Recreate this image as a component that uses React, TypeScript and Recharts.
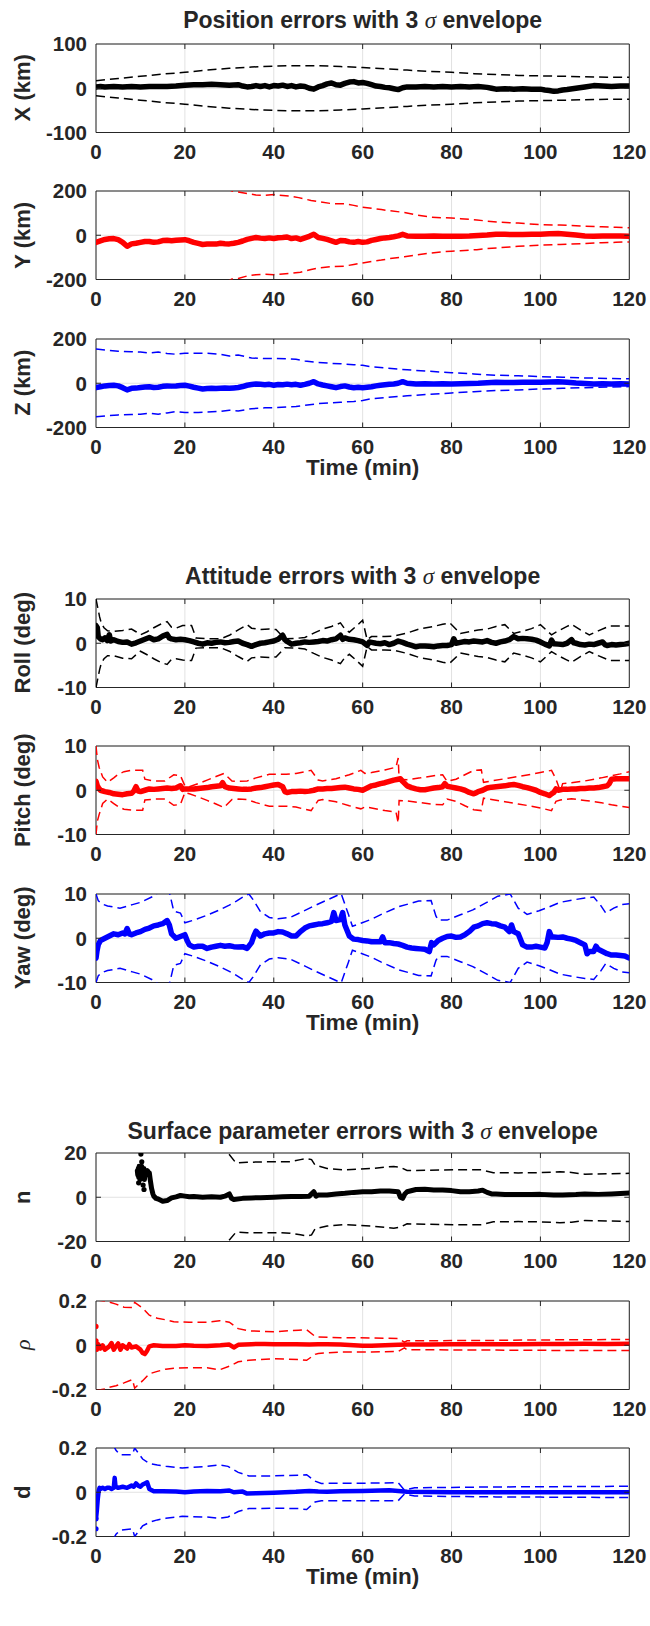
import React from 'react';
import { ComposedChart, Line, Scatter, XAxis, YAxis, CartesianGrid, ReferenceArea, ReferenceLine } from 'recharts';

type P = [number, number];

// ---------- shared axis values ----------
const timeTicks = [0, 20, 40, 60, 80, 100, 120];

// ---------- Position errors ----------
const xErr: P[] = [[0,3],[1,4],[2,3],[4,4],[6,3],[8,4],[10,3],[12,4],[14,4],[16,4],[18,5],[20,7],[22,8],[24,8],[26,9],[28,8],[30,7],[32,8],[33,5],[34,3],[35,4],[36,6],[37,4],[38,6],[39,3],[40,6],[41,5],[42,7],[43,4],[44,6],[45,3],[46,5],[47,4],[48,0],[49,-2],[50,3],[51,6],[52,10],[53,12],[54,8],[55,7],[56,11],[57,14],[58,15],[59,12],[60,13],[61,11],[62,8],[63,5],[64,4],[65,2],[66,1],[67,-1],[68,-3],[69,1],[70,3],[72,3],[74,4],[76,3],[78,4],[80,3],[82,4],[84,3],[86,4],[88,2],[89,0],[90,-2],[92,-1],[94,-2],[96,-1],[98,-2],[100,-2],[101,-4],[102,-5],[103,-7],[104,-6],[105,-4],[106,-3],[108,0],[110,3],[112,6],[114,5],[116,4],[118,5],[120,5]];
const xUp: P[] = [[0,17],[5,22],[10,27],[15,32],[20,36],[25,41],[30,45],[35,48],[40,50],[45,51],[50,51],[55,49],[60,47],[65,44],[70,41],[75,38],[80,36],[85,33],[90,31],[95,29],[100,28],[105,27],[110,26],[115,25],[120,25]];
const xDn: P[] = [[0,-17],[5,-22],[10,-27],[15,-32],[20,-36],[25,-41],[30,-45],[35,-48],[40,-50],[45,-51],[50,-51],[55,-49],[60,-47],[65,-44],[70,-41],[75,-38],[80,-36],[85,-33],[90,-31],[95,-29],[100,-28],[105,-27],[110,-26],[115,-25],[120,-25]];

const yErr: P[] = [[0,-32],[1,-25],[2,-19],[3,-16],[4,-15],[5,-20],[6,-32],[7,-50],[8,-39],[9,-36],[10,-32],[11,-28],[12,-28],[13,-32],[14,-30],[15,-24],[16,-23],[17,-25],[18,-23],[19,-21],[20,-20],[21,-25],[22,-32],[23,-37],[24,-42],[25,-40],[26,-39],[27,-40],[28,-36],[29,-38],[30,-39],[31,-36],[32,-32],[33,-26],[34,-19],[35,-14],[36,-10],[37,-13],[38,-15],[39,-12],[40,-15],[41,-11],[42,-10],[43,-8],[44,-15],[45,-12],[46,-19],[47,-12],[48,-5],[49,4],[50,-10],[51,-14],[52,-19],[53,-25],[54,-32],[55,-24],[56,-25],[57,-30],[58,-32],[59,-28],[60,-32],[61,-30],[62,-23],[63,-19],[64,-15],[65,-12],[66,-10],[67,-7],[68,-3],[69,4],[70,-3],[72,-5],[74,-5],[76,-3],[78,-5],[80,-5],[82,-4],[84,-3],[86,-1],[88,1],[90,4],[92,4],[94,3],[96,3],[98,4],[100,5],[102,7],[104,8],[106,5],[108,1],[110,-3],[112,-4],[114,-3],[116,-3],[118,-3],[120,-4]];
const yUp: P[] = [[29,215],[30.6,200],[32,195],[34.4,187],[36,182],[38,180],[40,184],[42,180],[43.7,177],[45.6,170],[48.4,157],[50,152],[53,143],[55.8,142],[58,135],[60,127],[62,122],[64.2,116],[66,111],[69.4,103],[71.7,93],[75.4,82],[78,79],[80,78],[82,75],[85.7,69],[88,64],[90.4,59],[95,55],[99.7,48],[104.4,46],[109,42],[113.8,38],[117,36],[120,34]];
const yDn: P[] = [[29,-215],[30.6,-198],[32,-195],[34.4,-182],[36,-178],[38,-176],[40,-178],[42,-175],[44,-172],[46,-167],[48.4,-155],[50,-148],[53,-142],[55.8,-140],[58,-132],[60,-125],[62,-118],[64.2,-112],[66,-106],[69.4,-97],[71.7,-90],[75.4,-80],[78,-75],[80,-72],[82,-70],[85.7,-65],[88,-60],[90.4,-57],[95,-50],[99.7,-45],[104.4,-42],[109,-38],[113.8,-34],[117,-32],[120,-30]];

const zErr: P[] = [[0,-20],[1,-16],[2,-12],[3,-10],[4,-9],[5,-12],[6,-20],[7,-30],[8,-23],[9,-22],[10,-19],[11,-17],[12,-16],[13,-19],[14,-18],[15,-14],[16,-12],[17,-13],[18,-12],[19,-10],[20,-9],[21,-13],[22,-18],[23,-22],[24,-26],[25,-24],[26,-23],[27,-24],[28,-23],[29,-22],[30,-23],[31,-21],[32,-19],[33,-15],[34,-9],[35,-6],[36,-3],[37,-5],[38,-7],[39,-5],[40,-9],[41,-6],[42,-7],[43,-4],[44,-7],[45,-5],[46,-9],[47,-5],[48,0],[49,7],[50,-3],[51,-8],[52,-12],[53,-16],[54,-20],[55,-15],[56,-12],[57,-17],[58,-20],[59,-18],[60,-20],[61,-18],[62,-16],[63,-12],[64,-9],[65,-7],[66,-5],[67,-3],[68,0],[69,7],[70,0],[72,-3],[74,-2],[76,-3],[78,-2],[80,-3],[82,-2],[84,-1],[86,0],[88,2],[90,4],[92,3],[94,3],[96,4],[98,4],[100,4],[102,6],[104,7],[106,5],[108,1],[110,-1],[112,-3],[114,-2],[116,-3],[118,-2],[120,-3]];
const zUp: P[] = [[0,155],[3,148],[5,145],[8,142],[10,141],[12,136],[14,141],[16,135],[18,131],[20,136],[23,136],[25,136],[28,131],[30,123],[32,128],[35,114],[38,112],[40,112],[43,110],[45,108],[47,101],[50,94],[53,90],[55,88],[58,84],[60,81],[62,74],[65,69],[68,64],[70,61],[75,54],[80,48],[85,42],[90,36],[95,34],[100,30],[105,27],[110,24],[115,22],[120,20]];
const zDn: P[] = [[0,-151],[3,-146],[5,-143],[8,-141],[10,-140],[12,-135],[14,-140],[16,-134],[18,-128],[20,-132],[23,-132],[25,-130],[28,-127],[30,-122],[32,-125],[35,-115],[38,-111],[40,-110],[43,-107],[45,-105],[47,-100],[50,-92],[53,-88],[55,-86],[58,-82],[60,-78],[62,-70],[65,-65],[68,-60],[70,-57],[75,-50],[80,-44],[85,-38],[90,-33],[95,-30],[100,-26],[105,-23],[110,-20],[115,-17],[120,-15]];

// ---------- Attitude errors ----------
const rollErr: P[] = [[0,4],[0.3,3.5],[0.5,1.5],[1,1.0],[1.5,0.8],[2,1.2],[2.5,0.6],[3,1.9],[3.3,0.5],[4,0.8],[5,0.4],[6,0.2],[7,0.3],[8,-0.2],[9,0.1],[10,0.5],[11,0.9],[12,1.3],[13,0.8],[14,1.0],[15,1.6],[16,2.0],[16.5,1.2],[17,1.0],[18,0.8],[19,0.9],[20,0.8],[21,0.6],[22,0.3],[23,0.0],[24,-0.2],[25,0.1],[26,0.0],[27,0.2],[28,0.3],[29,0.1],[30,0.2],[31,0.4],[32,0.5],[33,0.0],[34,-0.3],[35,-0.7],[36,-0.3],[37,0.0],[38,0.1],[39,0.3],[40,0.5],[41,0.9],[42,1.8],[42.5,0.8],[43,0.4],[44,-0.2],[45,0.0],[46,0.1],[47,0.3],[48,0.2],[49,0.3],[50,0.4],[51,0.6],[52,0.5],[53,0.8],[54,1.0],[55,1.8],[55.5,0.9],[56,1.2],[57,0.9],[58,0.8],[59,0.6],[60,0.3],[61,-0.5],[61.5,0.3],[62,0.2],[63,0.0],[64,-0.1],[65,0.1],[66,-0.3],[67,0.0],[68,0.5],[69,0.2],[70,-0.2],[71,-0.5],[72,-0.8],[73,-0.6],[74,-0.6],[75,-0.7],[76,-0.8],[77,-0.6],[78,-0.5],[79,-0.5],[80,-0.3],[80.5,1.0],[81,0.0],[82,0.2],[83,0.4],[84,0.3],[85,0.5],[86,0.4],[87,0.3],[88,0.6],[89,0.2],[90,0.0],[91,0.3],[92,0.5],[93,0.8],[94,1.5],[95,1.0],[96,1.1],[97,1.0],[98,0.9],[99,0.7],[100,0.3],[101,-0.2],[102,-0.6],[102.5,0.7],[103,-0.1],[104,-0.2],[105,-0.3],[106,0.0],[107,0.8],[107.5,0.1],[108,0.0],[109,-0.3],[110,-0.4],[111,-0.2],[112,-0.3],[113,0.0],[114,0.3],[114.5,-0.3],[115,-0.5],[116,-0.3],[117,-0.4],[118,-0.3],[119,-0.2],[120,0.0]];
const rollUp: P[] = [[0,10],[0.4,8],[0.8,6],[1.2,4.5],[1.8,3.5],[2.6,2.8],[4,2.7],[6,2.9],[8,3.2],[9,2.6],[10,1.9],[11.5,2.6],[13,3.5],[14.5,4.3],[16,4.9],[17,3.6],[18,3.4],[19.5,4.0],[21.5,4.0],[22.5,1.2],[25,1.0],[28,1.0],[30,1.8],[32,3.0],[34,4.2],[35,3.4],[37,3.1],[39,3.2],[40.5,3.1],[42.5,1.0],[45,1.1],[47,1.3],[49,2.3],[51,3.2],[53,3.8],[55,4.6],[56,3.2],[57,2.5],[58.5,3.8],[60,5.2],[61,0.8],[62,1.5],[65,1.5],[67,1.6],[70,2.3],[73,3.3],[76,3.8],[78,4.3],[79.6,4.6],[82,2.2],[84,2.6],[86,3.0],[88,3.2],[90,3.8],[92,4.2],[94,2.2],[96,2.7],[98,3.3],[100,4.2],[102.5,1.9],[104,2.8],[106,3.8],[107,4.3],[109,3.0],[111,1.9],[113,2.8],[115.6,3.9],[118,3.9],[120,3.9]];
const rollDn: P[] = [[0,-10],[0.4,-8],[0.8,-6],[1.2,-4.5],[1.8,-3.5],[2.6,-2.8],[4,-2.8],[6,-3.4],[8,-3.5],[9,-2.6],[10,-1.8],[11.5,-2.6],[13,-3.5],[14.5,-4.3],[16,-4.8],[17,-3.6],[18,-3.5],[19.5,-3.8],[21.5,-3.9],[22.5,-1.1],[25,-1.0],[28,-1.0],[30,-1.8],[32,-3.0],[34,-4.1],[35,-3.3],[37,-3.1],[39,-3.2],[40.5,-3.1],[42.5,-1.0],[45,-1.1],[47,-1.3],[49,-2.3],[51,-3.2],[53,-3.8],[55,-4.6],[56,-3.2],[57,-2.5],[58.5,-3.8],[60,-5.2],[61,-0.8],[62,-1.5],[65,-1.5],[67,-1.6],[70,-2.3],[73,-3.3],[76,-3.8],[78,-4.3],[79.6,-4.5],[82,-2.2],[84,-2.6],[86,-3.0],[88,-3.2],[90,-3.8],[92,-4.2],[94,-2.2],[96,-2.7],[98,-3.3],[100,-4.2],[102.5,-1.9],[104,-2.8],[106,-3.8],[107,-4.3],[109,-3.0],[111,-1.9],[113,-2.8],[115.6,-3.9],[118,-3.9],[120,-3.9]];

const pitchErr: P[] = [[0,2.0],[0.3,1.0],[0.6,0.5],[1,0.0],[2,-0.3],[3,-0.5],[4,-0.8],[5,-0.9],[6,-1.0],[7,-0.8],[8,-0.7],[8.5,-0.2],[9,0.8],[9.5,-0.2],[10,-0.3],[11,0.0],[12,0.3],[13,0.2],[14,0.3],[15,0.4],[16,0.5],[17,0.4],[18,0.5],[19,1.0],[19.5,0.2],[20,0.3],[21,0.3],[22,0.3],[23,0.4],[24,0.5],[25,0.6],[26,0.8],[27,0.9],[28,1.0],[28.5,1.7],[29,0.8],[30,0.5],[31,0.4],[32,0.3],[33,0.2],[34,0.2],[35,0.3],[36,0.5],[37,0.6],[38,0.8],[39,1.0],[40,1.2],[41,1.3],[42,0.8],[42.5,-0.3],[43,-0.5],[44,-0.3],[45,-0.3],[46,-0.2],[47,-0.3],[48,-0.2],[49,0.0],[50,0.3],[51,0.3],[52,0.4],[53,0.4],[54,0.5],[55,0.6],[56,0.7],[57,0.5],[58,0.3],[59,0.2],[60,0.0],[61,0.5],[62,1.0],[63,1.2],[64,1.5],[65,1.7],[66,2.0],[67,2.3],[68,2.5],[68.5,2.6],[69,2.0],[70,1.0],[71,0.6],[72,0.3],[73,0.1],[74,0.1],[75,0.3],[76,0.5],[77,0.6],[78,0.8],[78.5,1.5],[79,0.9],[80,0.7],[81,0.5],[82,0.3],[83,0.0],[84,-0.5],[85,-0.8],[85.5,-0.6],[86,-0.3],[87,0.0],[88,0.5],[89,0.7],[90,0.8],[91,0.9],[92,1.0],[93,1.2],[94,1.3],[95,1.1],[96,0.8],[97,0.6],[98,0.3],[99,0.0],[100,-0.5],[101,-0.8],[102,-1.2],[102.5,-0.8],[103,-0.5],[103.5,0.3],[104,0.0],[105,0.2],[106,0.2],[107,0.3],[108,0.3],[109,0.4],[110,0.4],[111,0.5],[112,0.5],[113,0.6],[114,0.8],[115,1.0],[115.5,1.5],[116,2.5],[117,2.6],[118,2.6],[119,2.6],[120,2.6]];
const pitchUp: P[] = [[0,10],[0.3,7],[0.7,5.2],[1.5,3],[2.6,1.8],[4,2.8],[5,3.6],[6.3,4.2],[8,4.5],[10.5,4.5],[11,2.5],[13,2.1],[15.5,2.1],[17.5,3.5],[19,3.3],[20,1.0],[21,0.8],[23,1.5],[25,2.3],[27,3.1],[28.8,3.8],[30.6,2.1],[32,2.0],[34,2.1],[36,2.8],[39,3.6],[42.8,3.6],[45,3.8],[47,4.2],[48.4,4.5],[50,2.3],[51,2.1],[54,2.6],[57,3.5],[59.6,4.5],[60.5,3.8],[62,4.0],[65,4.6],[67.5,5.2],[68,7.3],[68.2,2.5],[70,2.4],[73,2.8],[76,3.3],[78,3.5],[79,2.0],[81,2.5],[83,3.5],[85,4.5],[86.7,4.6],[87.2,1.8],[89,2.1],[92,2.6],[95,3.1],[98,3.6],[100,4.0],[102.5,4.5],[103.5,2.5],[104.5,-0.2],[105,1.5],[107,1.7],[110,2.1],[113.7,2.8],[116,3.3],[118,3.7],[120,4.2]];
const pitchDn: P[] = [[0,-10],[0.3,-7],[0.7,-5.5],[1.5,-3],[2.6,-2],[4,-3],[5,-3.7],[6.3,-4.3],[8,-4.5],[10.5,-4.5],[11,-2.2],[13,-2],[15.5,-2],[17.5,-3.4],[19,-3.2],[20,-0.5],[21,-0.8],[23,-1.5],[25,-2.3],[27,-3.1],[28.8,-3.9],[30.6,-2.1],[32,-2],[34,-2.1],[36,-2.8],[39,-3.6],[42.8,-3.6],[45,-3.8],[47,-4.3],[48.4,-4.6],[50,-2.3],[51,-2.1],[54,-2.6],[57,-3.5],[59.6,-4.2],[60.5,-3.8],[62,-4],[65,-4.6],[67.5,-4.9],[68,-7.4],[68.2,-2.3],[70,-2.4],[73,-2.8],[76,-3.2],[78,-3.3],[79,-2],[81,-2.5],[83,-3.5],[85,-4.4],[86.7,-4.6],[87.2,-1.8],[89,-2.1],[92,-2.6],[95,-3.1],[98,-3.6],[100,-4],[102.5,-4.6],[103.5,-2.5],[104.5,-2.2],[107,-1.9],[110,-2.3],[113.7,-2.8],[116,-3.3],[118,-3.6],[120,-3.9]];

const yawErr: P[] = [[0,-4.5],[0.2,-3],[0.5,-1.5],[1,-0.5],[2,0],[3,0.5],[4,1.0],[5,0.8],[6,1.2],[6.5,1.0],[7,2.2],[7.5,1.0],[8,0.8],[9,1.2],[10,1.5],[11,2.0],[12,2.3],[13,2.8],[14,3.0],[15,3.3],[16,4.0],[16.5,3.0],[17,1.0],[18,0.0],[19,0.4],[20,0.8],[20.5,-0.5],[21,-1.5],[22,-2.0],[23,-1.8],[24,-1.8],[25,-2.3],[26,-2.0],[27,-1.8],[28,-1.6],[29,-1.8],[30,-1.7],[31,-1.9],[32,-2.0],[33,-1.9],[34,-2.3],[35,-1.0],[35.5,0.5],[36,1.6],[37,0.5],[38,1.0],[39,1.2],[40,1.2],[41,1.5],[42,1.4],[43,1.0],[44,0.5],[45,0.5],[46,1.5],[47,2.3],[48,2.8],[49,3.0],[50,3.2],[51,3.3],[52,3.5],[53,3.8],[53.5,5.8],[54,4.0],[55,4.2],[55.5,5.8],[56,3.0],[57,0.5],[58,-0.2],[59,-0.3],[60,-0.5],[61,-0.6],[62,-0.8],[63,-0.8],[64,-0.8],[64.5,0.3],[65,-1.0],[66,-1.0],[67,-1.2],[68,-1.3],[69,-1.6],[70,-2.0],[71,-2.2],[72,-2.3],[73,-2.4],[74,-2.5],[75,-3.0],[75.5,-1.0],[76,-1.5],[77,-0.5],[78,0.0],[79,0.4],[80,0.5],[81,0.2],[82,0.3],[83,0.8],[84,1.5],[85,2.5],[86,2.8],[87,3.3],[88,3.5],[89,3.3],[90,3.2],[91,2.8],[92,2.5],[93,1.5],[93.5,3.0],[94,1.5],[95,1.0],[96,-1.5],[97,-2.0],[98,-2.0],[99,-1.8],[100,-2.0],[101,-2.2],[101.5,-1.0],[102,1.5],[102.5,0.3],[103,0.3],[104,0.2],[105,0.3],[106,0.0],[107,-0.2],[108,-0.5],[109,-1.0],[110,-1.5],[110.5,-3.5],[111,-3.0],[112,-3.0],[112.5,-1.8],[113,-2.5],[114,-3.0],[115,-3.5],[116,-3.8],[117,-3.8],[118,-3.9],[119,-4.0],[120,-4.5]];
const yawUp: P[] = [[0,10],[0.5,8.5],[1.2,7.8],[2.6,7.3],[5.4,6.8],[8.2,7.6],[10,8.1],[12.9,9.5],[13.8,10.2],[15,12],[16.6,10],[17.5,6.1],[19,5.7],[20,3.5],[22,4.1],[25,5.2],[27.8,6.4],[30,7.5],[31.6,8.4],[33,9.3],[34.4,10],[35.3,8.8],[37,6],[39,4.7],[41,4.4],[43.7,4.7],[46,5.8],[49.3,7.4],[53,9.1],[55,10],[55.2,10],[56.8,5.4],[57.7,2.7],[59.6,3.4],[62,4.3],[64.2,5.4],[68,7.1],[72.6,8.4],[75.4,8.5],[76.5,5],[77,4.1],[79,4.1],[82,5.3],[84.8,6.4],[87,7.6],[90.4,9.5],[93.2,10],[95,6.8],[97,5.4],[99.7,6.2],[102,7.1],[104.4,8.1],[107,8.6],[110,9.1],[112,9.3],[113.5,7.5],[114.7,5.7],[116.5,6.8],[118.4,7.6],[120,7.8]];
const yawDn: P[] = [[0,-10],[0.5,-8.5],[1.2,-7.8],[2.6,-7.3],[5.4,-6.8],[8.2,-7.6],[10,-8.1],[12.9,-9.5],[13.8,-10.2],[15,-12],[16.6,-10],[17.5,-6.1],[19,-5.7],[20,-3.5],[22,-4.1],[25,-5.2],[27.8,-6.4],[30,-7.5],[31.6,-8.4],[33,-9.3],[34.4,-10],[35.3,-8.8],[37,-6],[39,-4.7],[41,-4.4],[43.7,-4.7],[46,-5.8],[49.3,-7.4],[53,-9.1],[55,-10],[55.2,-10],[56.8,-5.4],[57.7,-2.7],[59.6,-3.4],[62,-4.3],[64.2,-5.4],[68,-7.1],[72.6,-8.4],[75.4,-8.5],[76.5,-5],[77,-4.1],[79,-4.1],[82,-5.3],[84.8,-6.4],[87,-7.6],[90.4,-9.5],[93.2,-10],[95,-6.8],[97,-5.4],[99.7,-6.2],[102,-7.1],[104.4,-8.1],[107,-8.6],[110,-9.1],[112,-9.3],[113.5,-7.5],[114.7,-5.7],[116.5,-6.8],[118.4,-7.6],[120,-7.8]];

// ---------- Surface parameter errors ----------
const nErr: P[] = [[9.3,12],[9.4,10],[9.5,13],[9.6,9],[9.7,14],[9.8,11],[9.9,8],[10,12],[10.1,13],[10.2,10],[10.3,14],[10.4,11],[10.5,9],[10.6,12],[10.7,10],[10.8,13],[10.9,8],[11,11],[11.1,12],[11.2,10],[11.4,11],[11.6,12],[11.8,10],[12,11],[12.2,8],[12.5,4],[12.8,1.5],[13,0.5],[13.5,-0.5],[14,-0.8],[15,-1.8],[16,-1.5],[17,-0.3],[18,0.2],[19,0.8],[20,0.5],[21,0.2],[22,0.3],[24,0],[26,0.2],[28,0],[29,0.5],[30,1.5],[30.5,-0.5],[31,-1],[33,-0.5],[35,-0.3],[37,-0.2],[40,0],[42,0.2],[44,0.3],[46,0.3],[48,0.5],[49,2.5],[49.5,0.5],[50,1],[52,1],[54,1.5],[56,1.8],[58,2.2],[60,2.5],[62,2.5],[64,2.8],[66,2.8],[68,2.5],[68.5,0],[69,-0.5],[69.5,1.5],[70,2.5],[72,3.5],[74,3.6],[76,3.3],[78,3.3],[80,3],[82,2.5],[84,2.5],[86,2.8],[87,3.2],[88,2.2],[89,1.5],[90,1.5],[92,1.2],[95,1.2],[98,1.2],[100,1.3],[103,1],[105,1],[108,1.2],[110,1.5],[113,1.3],[116,1.5],[118,1.7],[120,1.9]];
const nDots: P[] = [[10.1,19.5],[10.3,16],[10.6,5.5],[10.8,3.5],[9.6,6.5]];
const nUp: P[] = [[28.5,25],[29.7,20],[31.5,15.5],[34,15.8],[38,16],[41,16],[43.7,16.1],[46,17],[47.4,17.5],[48.5,17],[49.3,14.5],[52,13],[55.8,12.4],[59,12.7],[62,13],[65,13.6],[67,13.9],[68.5,13.5],[70,12.1],[75,12.2],[81,12.4],[86.7,12.4],[89.4,11.1],[95,11],[99.7,11.1],[104.4,11.5],[107,11.2],[110,10.4],[115,10.6],[120,10.8]];
const nDn: P[] = [[28.5,-25],[29.7,-20],[31.5,-15.8],[34,-16],[38,-16],[41,-16],[43.7,-16.3],[46,-17],[47.4,-17.5],[48.5,-17],[49.3,-14.3],[52,-13],[55.8,-12.4],[59,-12.7],[62,-13],[65,-13.6],[67,-14],[68.5,-13.5],[70,-12],[75,-12.2],[81,-12.4],[86.7,-12.4],[89.4,-11.1],[95,-11],[99.7,-11.1],[104.4,-11.5],[107,-11.3],[110,-10.5],[115,-10.7],[120,-11]];

const rhoErr: P[] = [[0,0.015],[0.2,-0.02],[0.5,0.005],[1,-0.015],[1.5,0.0],[2,-0.02],[3,-0.005],[3.5,0.01],[4,-0.02],[4.5,-0.005],[5,0.008],[5.5,-0.02],[6,0.0],[7,-0.015],[7.5,0.005],[8,-0.01],[9,-0.005],[10,-0.02],[10.5,-0.035],[11,-0.04],[11.5,-0.025],[12,-0.005],[13,0],[15,-0.003],[18,-0.003],[20,0],[22,-0.002],[25,-0.003],[28,0],[30,0.003],[31,-0.01],[32,0.002],[35,0.005],[38,0.006],[40,0.005],[45,0.005],[48,0.003],[50,0.004],[52,0.004],[55,0.003],[58,0.0],[60,-0.002],[62,-0.002],[65,0],[68,0.002],[70,0.003],[75,0.003],[80,0.004],[85,0.004],[90,0.005],[95,0.005],[100,0.006],[105,0.006],[110,0.007],[115,0.006],[120,0.007]];
const rhoDots: P[] = [[0,0.085],[0,0.02]];
const rhoUp: P[] = [[0,0.205],[2,0.2],[3,0.195],[4.5,0.186],[6.3,0.172],[8.2,0.17],[8.7,0.194],[10.5,0.168],[12,0.136],[13.8,0.122],[15.7,0.115],[17.5,0.106],[21,0.104],[25,0.104],[27.8,0.111],[30,0.104],[32,0.075],[34.4,0.065],[40,0.061],[45.6,0.068],[47.4,0.07],[49.3,0.04],[50,0.037],[55,0.034],[62,0.033],[68,0.031],[69.4,0.014],[70,0.02],[80,0.021],[90,0.022],[100,0.024],[110,0.025],[120,0.026]];
const rhoDn: P[] = [[0,-0.205],[2,-0.198],[3,-0.19],[4.5,-0.183],[6.3,-0.17],[8.2,-0.155],[8.7,-0.194],[10.5,-0.16],[12,-0.129],[13.8,-0.118],[15.7,-0.108],[17.5,-0.104],[21,-0.102],[25,-0.102],[27.8,-0.111],[30,-0.095],[32,-0.075],[34.4,-0.068],[40,-0.061],[45.6,-0.064],[47.4,-0.068],[49.3,-0.041],[50,-0.037],[55,-0.031],[62,-0.03],[68,-0.028],[69.4,-0.012],[70,-0.02],[80,-0.021],[90,-0.022],[100,-0.023],[110,-0.024],[120,-0.024]];

const dErr: P[] = [[0,-0.12],[0.2,-0.08],[0.4,-0.03],[0.6,0.005],[0.8,0.02],[1,0.015],[1.5,0.02],[2,0.015],[2.5,0.02],[3,0.02],[3.5,0.015],[4,0.02],[4.2,0.065],[4.4,0.025],[5,0.02],[6,0.025],[7,0.02],[8,0.03],[8.5,0.025],[9,0.04],[9.5,0.03],[10,0.025],[10.5,0.035],[11,0.04],[11.5,0.045],[12,0.015],[13,0.005],[15,0.005],[18,0.003],[20,0],[22,0.003],[25,0.006],[28,0.005],[30,0.008],[31,0.0],[33,0.003],[34,-0.006],[36,-0.004],[40,-0.002],[45,0.002],[48,0.006],[50,0.003],[52,0.002],[55,0.004],[60,0.006],[64,0.008],[66,0.009],[68,0.006],[70,0.002],[75,0.001],[80,0.0],[90,0.0],[100,0.0],[110,0.0],[120,0.0]];
const dDots: P[] = [[0,-0.165],[0,-0.12]];
const dUp: P[] = [[3.8,0.215],[4.5,0.19],[5.4,0.17],[8.2,0.17],[8.7,0.2],[10.5,0.15],[12,0.13],[13.8,0.123],[15.7,0.117],[19.4,0.11],[25,0.117],[27.8,0.123],[29.7,0.117],[32,0.09],[34.4,0.074],[40,0.074],[45.6,0.077],[47.4,0.079],[49.3,0.05],[50.7,0.04],[60,0.041],[68,0.043],[69.4,0.01],[71.7,0.02],[80,0.022],[90,0.024],[100,0.025],[110,0.026],[120,0.027]];
const dDn: P[] = [[3.8,-0.215],[4.5,-0.19],[5.4,-0.172],[8.2,-0.165],[8.7,-0.2],[10.5,-0.152],[12,-0.136],[13.8,-0.125],[15.7,-0.118],[19.4,-0.109],[25,-0.112],[27.8,-0.118],[29.7,-0.112],[32,-0.087],[34.4,-0.074],[40,-0.072],[45.6,-0.074],[47.4,-0.078],[49.3,-0.044],[50.7,-0.038],[60,-0.038],[68,-0.038],[69.4,-0.008],[71.7,-0.017],[80,-0.019],[90,-0.021],[100,-0.022],[110,-0.023],[120,-0.024]];

// ---------- layout ----------
const FONT = "'Liberation Sans', Arial, Helvetica, sans-serif";
const SERIF = "'Liberation Serif', 'Times New Roman', serif";
const TXT = '#262626';
const W = 650;
const PLOT_LEFT = 96;
const PLOT_RIGHT = 629.3;
const PLOT_H = 88.5;
const M_TOP = 12;
const XAX_H = 36;
const CX = (PLOT_LEFT + PLOT_RIGHT) / 2;

const toPts = (a: P[]) => a.map(([t, v]) => ({ t, v }));

interface SubProps {
  top: number; lo: number; hi: number; color: string;
  err: P[]; up: P[]; dn: P[]; dots?: P[]; errWidth: number;
}

function Subplot({ top, lo, hi, color, err, up, dn, dots, errWidth }: SubProps) {
  const yTicks = [lo, 0, hi];
  const tlY = ((hi - lo) * 5) / PLOT_H;
  const tlX = (120 * 5) / (PLOT_RIGHT - PLOT_LEFT);
  const tickStyle = { fill: TXT, fontSize: 20.5, fontWeight: 'bold', fontFamily: FONT } as any;
  return (
    <div style={{ position: 'absolute', left: 0, top: top - M_TOP }}>
      <ComposedChart width={W} height={M_TOP + PLOT_H + XAX_H} margin={{ top: M_TOP, right: W - PLOT_RIGHT, bottom: 0, left: 0 }}>
        <CartesianGrid stroke="#e2e2e2" strokeWidth={1} />
        <XAxis type="number" dataKey="t" domain={[0, 120]} ticks={timeTicks} allowDataOverflow height={XAX_H}
          axisLine={false} tickLine={false} tickSize={6} tickMargin={6} interval={0} tick={tickStyle} />
        <YAxis type="number" dataKey="v" domain={[lo, hi]} ticks={yTicks} allowDataOverflow width={PLOT_LEFT}
          axisLine={false} tickLine={false} tickSize={6} tickMargin={3} interval={0} tick={tickStyle} />
        <Line data={toPts(up)} dataKey="v" stroke={color} strokeWidth={1.5} strokeDasharray="9 5" dot={false} isAnimationActive={false} />
        <Line data={toPts(dn)} dataKey="v" stroke={color} strokeWidth={1.5} strokeDasharray="9 5" dot={false} isAnimationActive={false} />
        <Line data={toPts(err)} dataKey="v" stroke={color} strokeWidth={errWidth} strokeLinejoin="round" strokeLinecap="round" dot={false} isAnimationActive={false} />
        {dots && (
          <Scatter data={toPts(dots)} dataKey="v" fill={color} isAnimationActive={false}
            shape={(p: any) => <circle cx={p.cx} cy={p.cy} r={2.6} fill={color} />} />
        )}
        {timeTicks.slice(1, -1).map((x) => (
          <ReferenceLine key={'b' + x} segment={[{ x, y: lo }, { x, y: lo + tlY }]} stroke={TXT} strokeWidth={1} />
        ))}
        {timeTicks.slice(1, -1).map((x) => (
          <ReferenceLine key={'t' + x} segment={[{ x, y: hi - tlY }, { x, y: hi }]} stroke={TXT} strokeWidth={1} />
        ))}
        <ReferenceLine segment={[{ x: 0, y: 0 }, { x: tlX, y: 0 }]} stroke={TXT} strokeWidth={1} />
        <ReferenceLine segment={[{ x: 120 - tlX, y: 0 }, { x: 120, y: 0 }]} stroke={TXT} strokeWidth={1} />
        <ReferenceArea x1={0} x2={120} y1={lo} y2={hi} fill="none" fillOpacity={0} stroke={TXT} strokeWidth={1} />
      </ComposedChart>
    </div>
  );
}

const TOPS = [43.5, 191, 338.5, 598.5, 746, 893.5, 1153, 1300.5, 1448];
const TITLE_Y = [27.7, 583.5, 1139];

function Title({ y, text }: { y: number; text: string }) {
  return (
    <text x={CX} y={y} textAnchor="middle" fontFamily={FONT} fontWeight="bold" fontSize={23} fill={TXT}>
      {text} with 3 <tspan fontFamily={SERIF} fontStyle="italic" fontWeight="normal">σ</tspan> envelope
    </text>
  );
}

function YLabel({ top, text, serif }: { top: number; text: string; serif?: boolean }) {
  const cy = top + PLOT_H / 2;
  return (
    <text transform={`translate(30, ${cy}) rotate(-90)`} textAnchor="middle"
      fontFamily={serif ? SERIF : FONT} fontStyle={serif ? 'italic' : 'normal'} fontWeight={serif ? 'normal' : 'bold'}
      fontSize={22} fill={TXT}>
      {text}
    </text>
  );
}

function XLabel({ bottom }: { bottom: number }) {
  return (
    <text x={CX} y={bottom + 47.5} textAnchor="middle" fontFamily={FONT} fontWeight="bold" fontSize={22.5} fill={TXT}>
      Time (min)
    </text>
  );
}

export default function App() {
  return (
    <div style={{ position: 'relative', width: W, height: 1626, background: '#fff', overflow: 'hidden' }}>
      <style>{'body{margin:0;background:#fff}'}</style>
      <Subplot top={TOPS[0]} lo={-100} hi={100} color="#000000" err={xErr} up={xUp} dn={xDn} errWidth={5.5} />
      <Subplot top={TOPS[1]} lo={-200} hi={200} color="#ff0000" err={yErr} up={yUp} dn={yDn} errWidth={5.5} />
      <Subplot top={TOPS[2]} lo={-200} hi={200} color="#0000ff" err={zErr} up={zUp} dn={zDn} errWidth={5.5} />
      <Subplot top={TOPS[3]} lo={-10} hi={10} color="#000000" err={rollErr} up={rollUp} dn={rollDn} errWidth={5.5} />
      <Subplot top={TOPS[4]} lo={-10} hi={10} color="#ff0000" err={pitchErr} up={pitchUp} dn={pitchDn} errWidth={5.5} />
      <Subplot top={TOPS[5]} lo={-10} hi={10} color="#0000ff" err={yawErr} up={yawUp} dn={yawDn} errWidth={5.5} />
      <Subplot top={TOPS[6]} lo={-20} hi={20} color="#000000" err={nErr} up={nUp} dn={nDn} dots={nDots} errWidth={5} />
      <Subplot top={TOPS[7]} lo={-0.2} hi={0.2} color="#ff0000" err={rhoErr} up={rhoUp} dn={rhoDn} dots={rhoDots} errWidth={4.5} />
      <Subplot top={TOPS[8]} lo={-0.2} hi={0.2} color="#0000ff" err={dErr} up={dUp} dn={dDn} dots={dDots} errWidth={4.5} />
      <svg width={W} height={1626} style={{ position: 'absolute', left: 0, top: 0, pointerEvents: 'none' }}>
        <Title y={TITLE_Y[0]} text="Position errors" />
        <Title y={TITLE_Y[1]} text="Attitude errors" />
        <Title y={TITLE_Y[2]} text="Surface parameter errors" />
        <YLabel top={TOPS[0]} text="X (km)" />
        <YLabel top={TOPS[1]} text="Y (km)" />
        <YLabel top={TOPS[2]} text="Z (km)" />
        <YLabel top={TOPS[3]} text="Roll (deg)" />
        <YLabel top={TOPS[4]} text="Pitch (deg)" />
        <YLabel top={TOPS[5]} text="Yaw (deg)" />
        <YLabel top={TOPS[6]} text="n" />
        <YLabel top={TOPS[7]} text="ρ" serif />
        <YLabel top={TOPS[8]} text="d" />
        <XLabel bottom={TOPS[2] + PLOT_H} />
        <XLabel bottom={TOPS[5] + PLOT_H} />
        <XLabel bottom={TOPS[8] + PLOT_H} />
      </svg>
    </div>
  );
}
